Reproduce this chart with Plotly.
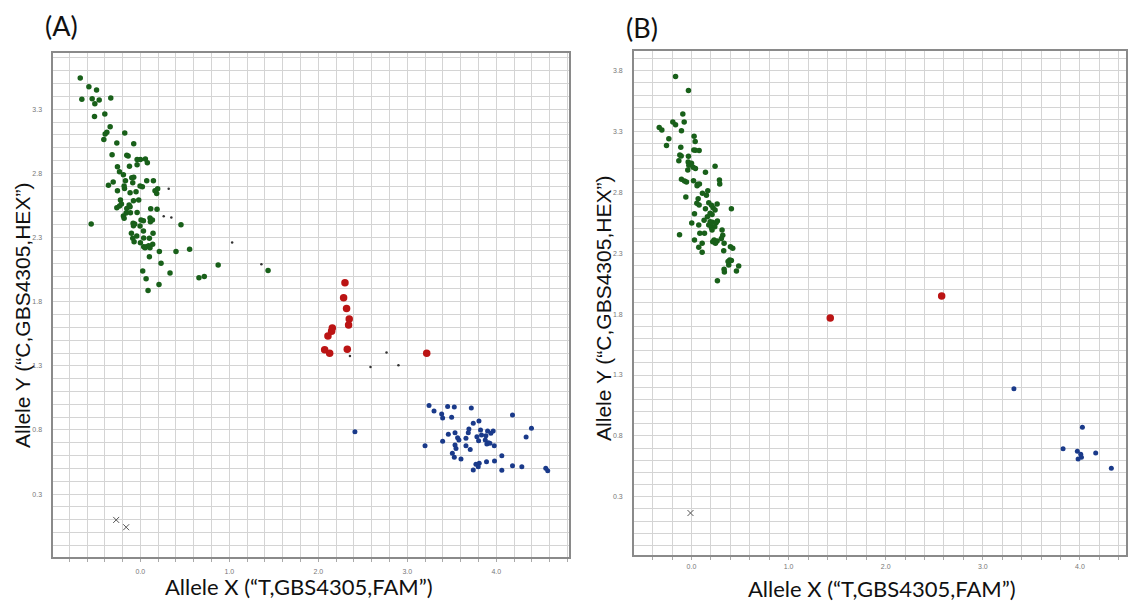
import plotly.graph_objects as go

# ---------------- Panel A: cluster plot ----------------
a_green_x = [-0.676, -0.579, -0.493, -0.658, -0.542, -0.463, -0.512, -0.333, -0.516, -0.400,
             -0.340, -0.377, -0.396, -0.411, -0.176, -0.265, -0.075, -0.318, -0.153, -0.138,
             -0.037, 0.000, 0.056, 0.078, -0.037, -0.123, -0.258, -0.235, -0.191, -0.075,
             -0.097, -0.168, 0.071, 0.146, -0.306, -0.359, -0.086, -0.183, -0.179, -0.004,
             0.022, 0.194, 0.164, 0.183, -0.258, -0.116, -0.049, -0.224, -0.078, -0.019,
             -0.213, -0.235, -0.265, -0.127, -0.116, -0.153, -0.161, -0.112, -0.037, 0.116,
             0.187, -0.191, -0.183, 0.007, 0.034, 0.108, 0.135, 0.112, -0.553, -0.082,
             -0.064, -0.078, -0.004, 0.034, 0.142, -0.101, -0.041, -0.086, 0.037, 0.101,
             -0.071, 0.000, 0.037, 0.067, 0.093, 0.138, 0.108, 0.052, 0.400, 0.213,
             0.553, 0.456, 0.101, 0.232, 0.333, 0.874, 0.026, 0.064, 0.658, 0.718,
             1.435, 0.209, 0.086]
a_green_y = [3.543, 3.476, 3.450, 3.377, 3.382, 3.372, 3.343, 3.387, 3.244, 3.263,
             3.164, 3.120, 3.107, 3.065, 3.115, 3.037, 3.031, 2.946, 2.941, 2.935,
             2.909, 2.909, 2.912, 2.883, 2.868, 2.855, 2.852, 2.813, 2.790, 2.769,
             2.766, 2.743, 2.743, 2.743, 2.733, 2.707, 2.727, 2.702, 2.683, 2.702,
             2.696, 2.681, 2.665, 2.644, 2.665, 2.650, 2.657, 2.592, 2.587, 2.592,
             2.561, 2.546, 2.533, 2.553, 2.540, 2.527, 2.491, 2.494, 2.496, 2.525,
             2.520, 2.468, 2.450, 2.437, 2.431, 2.452, 2.437, 2.424, 2.405, 2.411,
             2.405, 2.392, 2.390, 2.351, 2.333, 2.333, 2.312, 2.294, 2.296, 2.294,
             2.268, 2.260, 2.229, 2.229, 2.236, 2.247, 2.221, 2.221, 2.192, 2.192,
             2.208, 2.400, 2.151, 2.099, 2.023, 2.086, 2.039, 1.979, 1.987, 1.997,
             2.044, 1.933, 1.888]

a_red_x = [2.299, 2.284, 2.317, 2.347, 2.340, 2.157, 2.149, 2.108, 2.071, 2.127, 2.325, 3.218]
a_red_y = [1.948, 1.831, 1.746, 1.665, 1.618, 1.595, 1.569, 1.533, 1.426, 1.398, 1.429, 1.398]

a_blue_x = [3.244, 3.300, 3.453, 3.528, 3.719, 3.386, 3.397, 3.498, 4.182, 3.805,
            3.741, 3.692, 4.395, 3.823, 3.685, 3.902, 3.965, 3.939, 3.461, 3.536,
            3.834, 3.883, 3.782, 3.565, 3.659, 3.580, 4.335, 3.397, 3.801, 3.876,
            3.909, 3.894, 3.928, 3.199, 3.536, 3.659, 3.977, 3.547, 3.707, 3.506,
            3.528, 3.603, 4.062, 3.808, 3.771, 3.797, 3.890, 3.980, 4.182, 4.287,
            3.741, 4.062, 4.556, 4.578, 2.411]
a_blue_y = [0.990, 0.948, 0.984, 0.979, 0.971, 0.925, 0.894, 0.899, 0.917, 0.870,
            0.852, 0.808, 0.813, 0.800, 0.779, 0.792, 0.792, 0.774, 0.766, 0.779,
            0.761, 0.756, 0.748, 0.740, 0.735, 0.722, 0.745, 0.712, 0.717, 0.722,
            0.701, 0.691, 0.696, 0.678, 0.683, 0.678, 0.678, 0.655, 0.647, 0.618,
            0.587, 0.574, 0.600, 0.540, 0.533, 0.514, 0.553, 0.558, 0.522, 0.514,
            0.488, 0.486, 0.501, 0.483, 0.787]

# unassigned samples (small dots) and no-template controls (crosses)
a_unk_x = [0.318, 0.262, 0.348, 1.031, 1.360, 2.355, 2.766, 2.586, 2.900]
a_unk_y = [2.681, 2.465, 2.457, 2.262, 2.091, 1.377, 1.403, 1.291, 1.304]
a_ntc_x = [-0.272, -0.160]
a_ntc_y = [0.099, 0.042]

# ---------------- Panel B: cluster plot ----------------
b_green_x = [-0.164, -0.031, -0.089, -0.075, -0.192, -0.164, -0.103, -0.332, -0.305, -0.233,
             -0.257, -0.110, -0.120, -0.106, -0.130, -0.031, 0.027, 0.038, 0.024, 0.041,
             0.079, -0.034, -0.027, -0.038, 0.017, 0.000, 0.041, 0.243, 0.144, -0.103,
             -0.072, -0.051, 0.021, 0.062, 0.058, 0.082, 0.288, 0.291, -0.058, 0.113,
             0.168, 0.154, 0.069, 0.178, 0.055, 0.079, 0.264, 0.206, 0.223, 0.243,
             0.144, 0.031, 0.192, 0.212, 0.164, 0.411, 0.130, 0.192, 0.216, 0.178,
             0.209, 0.254, 0.267, 0.206, 0.240, 0.212, 0.075, 0.003, -0.123, 0.086,
             0.031, 0.134, 0.233, 0.264, 0.247, 0.219, 0.322, 0.308, 0.336, 0.110,
             0.075, 0.110, 0.401, 0.425, 0.332, 0.394, 0.377, 0.411, 0.384, 0.336,
             0.339, 0.463, 0.486, 0.267, 0.315]
b_green_y = [3.752, 3.637, 3.445, 3.379, 3.379, 3.357, 3.308, 3.333, 3.313, 3.242,
             3.185, 3.171, 3.108, 3.100, 3.061, 3.097, 3.261, 3.218, 3.149, 3.146,
             3.144, 3.050, 3.023, 2.985, 3.007, 3.040, 2.998, 3.015, 2.966, 2.908,
             2.894, 2.886, 2.897, 2.867, 2.856, 2.870, 2.903, 2.870, 2.763, 2.793,
             2.815, 2.777, 2.749, 2.716, 2.711, 2.697, 2.705, 2.694, 2.675, 2.656,
             2.667, 2.626, 2.629, 2.620, 2.601, 2.667, 2.571, 2.560, 2.555, 2.533,
             2.519, 2.552, 2.566, 2.511, 2.519, 2.492, 2.533, 2.549, 2.453, 2.464,
             2.410, 2.464, 2.410, 2.401, 2.382, 2.396, 2.448, 2.421, 2.382, 2.382,
             2.349, 2.308, 2.355, 2.341, 2.322, 2.245, 2.232, 2.240, 2.204, 2.169,
             2.147, 2.155, 2.196, 2.075, 2.492]

b_red_x = [1.429, 2.576]
b_red_y = [1.768, 1.949]

b_blue_x = [3.320, 4.025, 3.826, 3.973, 4.008, 4.162, 4.015, 3.981, 4.323]
b_blue_y = [1.187, 0.870, 0.694, 0.673, 0.648, 0.659, 0.624, 0.610, 0.533]

b_ntc_x = [-0.010]
b_ntc_y = [0.166]

# tick labels
x_tickvals = [0, 1, 2, 3, 4]
x_ticktext = ["0.0", "1.0", "2.0", "3.0", "4.0"]
a_y_tickvals = [0.3, 0.8, 1.3, 1.8, 2.3, 2.8, 3.3]
b_y_tickvals = [0.3, 0.8, 1.3, 1.8, 2.3, 2.8, 3.3, 3.8]

GREEN = "#19601a"
RED = "#bb1414"
BLUE = "#1a3a8a"
GRID = "#d4d4d4"
FRAME = "#8a8a8a"

fig = go.Figure()


def add_panel(xa, ya, green, red, blue, unk, ntc):
    (gx, gy), (rx, ry), (bx, by), (nx, ny) = green, red, blue, ntc
    fig.add_trace(go.Scatter(x=gx, y=gy, mode="markers", xaxis=xa, yaxis=ya,
                             marker=dict(color=GREEN, size=5.5), showlegend=False))
    fig.add_trace(go.Scatter(x=rx, y=ry, mode="markers", xaxis=xa, yaxis=ya,
                             marker=dict(color=RED, size=7.5), showlegend=False))
    fig.add_trace(go.Scatter(x=bx, y=by, mode="markers", xaxis=xa, yaxis=ya,
                             marker=dict(color=BLUE, size=5), showlegend=False))
    if unk is not None:
        ux, uy = unk
        fig.add_trace(go.Scatter(x=ux, y=uy, mode="markers", xaxis=xa, yaxis=ya,
                                 marker=dict(color="#333333", size=2.5), showlegend=False))
    fig.add_trace(go.Scatter(x=nx, y=ny, mode="markers", xaxis=xa, yaxis=ya,
                             marker=dict(symbol="x-thin-open", color="#555555", size=6,
                                         line=dict(color="#555555", width=1)),
                             showlegend=False))


add_panel("x", "y", (a_green_x, a_green_y), (a_red_x, a_red_y), (a_blue_x, a_blue_y),
          (a_unk_x, a_unk_y), (a_ntc_x, a_ntc_y))
add_panel("x2", "y2", (b_green_x, b_green_y), (b_red_x, b_red_y), (b_blue_x, b_blue_y),
          None, (b_ntc_x, b_ntc_y))

tickfont = dict(family="Liberation Sans", size=7, color="#777777")


def xaxis(domain, rng, anchor, standoff):
    return dict(domain=domain, range=rng, anchor=anchor, tickmode="array",
                tickvals=x_tickvals, ticktext=x_ticktext, tickfont=tickfont,
                ticks="outside", ticklen=3, tickcolor="#aaaaaa",
                showgrid=True, gridcolor=GRID, gridwidth=1,
                minor=dict(dtick=0.2, tick0=0, showgrid=True, gridcolor=GRID, gridwidth=1,
                           ticks="outside", ticklen=3, tickcolor="#aaaaaa"),
                showline=True, linecolor=FRAME, linewidth=1.5, mirror=True,
                zeroline=False, ticklabelstandoff=standoff, fixedrange=True)


def yaxis(domain, rng, anchor, tickvals):
    return dict(domain=domain, range=rng, anchor=anchor, tickmode="array",
                tickvals=tickvals, ticktext=[f"{v:.1f}" for v in tickvals], tickfont=tickfont,
                ticks="", showgrid=True, gridcolor=GRID, gridwidth=1,
                minor=dict(dtick=0.1, tick0=0, showgrid=True, gridcolor=GRID, gridwidth=1),
                showline=True, linecolor=FRAME, linewidth=1.5, mirror=True,
                zeroline=False, ticklabelstandoff=8, fixedrange=True)


W, H = 1128, 606
fig.update_layout(
    width=W, height=H,
    margin=dict(l=0, r=0, t=0, b=0),
    paper_bgcolor="white", plot_bgcolor="white",
    xaxis=xaxis([53.3 / W, 570 / W], [-0.98, 4.817], "y", 4),
    yaxis=yaxis([1 - 557 / H, 1 - 53.3 / H], [-0.19, 3.736], "x", a_y_tickvals),
    xaxis2=xaxis([635 / W, 1.0], [-0.593, 4.474], "y2", 1),
    yaxis2=yaxis([1 - 555 / H, 1 - 50.7 / H], [-0.179, 3.965], "x2", b_y_tickvals),
)

title_x_font = dict(family="Lato", size=22, color="#111111")
title_y_font = dict(family="Liberation Sans", size=21, color="#111111")
label_font = dict(family="Lato", size=27, color="#111111")

annotations = [
    dict(text="(A)", x=62 / W, y=1 - 25 / H, font=label_font),
    dict(text="(B)", x=643 / W, y=1 - 27 / H, font=label_font),
    dict(text="Allele X (\u201cT,GBS4305,FAM\u201d)", x=300 / W, y=1 - 586 / H, font=title_x_font),
    dict(text="Allele X (\u201cT,GBS4305,FAM\u201d)", x=884 / W, y=1 - 588 / H, font=title_x_font),
    dict(text="Allele Y (\u201cC,GBS4305,HEX\u201d)", x=22 / W, y=1 - 315 / H, font=title_y_font,
         textangle=-90),
    dict(text="Allele Y (\u201cC,GBS4305,HEX\u201d)", x=604 / W, y=1 - 308 / H, font=title_y_font,
         textangle=-90),
]
for a in annotations:
    a.update(xref="paper", yref="paper", xanchor="center", yanchor="middle", showarrow=False)
fig.update_layout(annotations=annotations)

fig.write_html("out.html", config={"displayModeBar": False})
